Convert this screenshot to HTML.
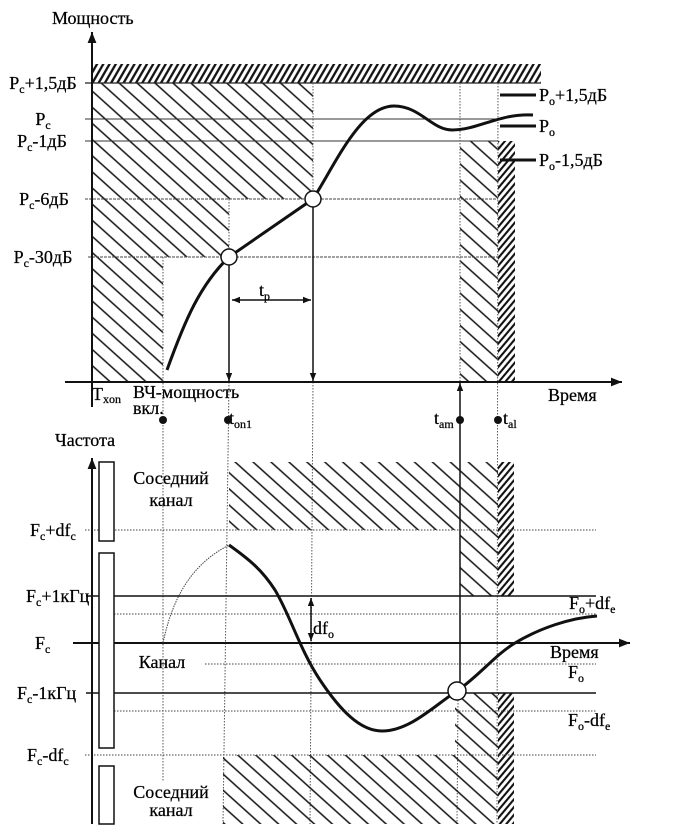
<!DOCTYPE html>
<html><head><meta charset="utf-8"><style>
html,body{margin:0;padding:0;background:#fff;}
svg{display:block;}
text{font-family:"Liberation Serif","DejaVu Serif",serif;fill:#000;font-size:18px;stroke:#000;stroke-width:0.25;}
.sub{font-size:12px;}
</style></head><body>
<svg width="686" height="832" viewBox="0 0 686 832" xmlns="http://www.w3.org/2000/svg">
<defs>
<pattern id="sp" patternUnits="userSpaceOnUse" width="12" height="12" patternTransform="rotate(42)">
<line x1="0" y1="6" x2="12" y2="6" stroke="#111" stroke-width="1.5"/></pattern>
<pattern id="dn" patternUnits="userSpaceOnUse" width="6" height="5.4" patternTransform="rotate(-60)">
<line x1="0" y1="2.7" x2="6" y2="2.7" stroke="#111" stroke-width="2.3"/></pattern>
<pattern id="dr" patternUnits="userSpaceOnUse" width="6" height="5" patternTransform="rotate(-50)">
<line x1="0" y1="2.5" x2="6" y2="2.5" stroke="#111" stroke-width="2.1"/></pattern>
<marker id="ah" viewBox="0 0 10 10" refX="10" refY="5" markerWidth="8" markerHeight="8" orient="auto-start-reverse" markerUnits="userSpaceOnUse">
<path d="M0,1 L10,5 L0,9 z" fill="#111"/></marker>
<marker id="ahb" viewBox="0 0 10 10" refX="10" refY="5" markerWidth="11" markerHeight="11" orient="auto-start-reverse" markerUnits="userSpaceOnUse">
<path d="M0,1 L10,5 L0,9 z" fill="#111"/></marker>
</defs>

<!-- ===== TOP CHART ===== -->
<rect x="92" y="64" width="449" height="19" fill="url(#dn)"/>
<polygon points="92,83 313,83 313,199 229,199 229,257 163,257 163,382 92,382" fill="url(#sp)"/>
<rect x="460" y="141" width="38" height="241" fill="url(#sp)"/>
<rect x="498" y="141" width="17" height="241" fill="url(#dr)"/>

<line x1="85" y1="83" x2="541" y2="83" stroke="#222" stroke-width="1.2"/>
<line x1="85" y1="119" x2="498" y2="119" stroke="#333" stroke-width="1"/>
<line x1="85" y1="141" x2="498" y2="141" stroke="#333" stroke-width="1"/>
<line x1="85" y1="199" x2="498" y2="199" stroke="#444" stroke-width="1" stroke-dasharray="3 1"/>
<line x1="88" y1="257" x2="498" y2="257" stroke="#444" stroke-width="1" stroke-dasharray="3 1"/>

<g stroke="#555" stroke-width="1" stroke-dasharray="1.5 1.5" fill="none">
<line x1="163" y1="257" x2="163" y2="782"/>
<line x1="229" y1="199" x2="229" y2="257"/>
<line x1="229" y1="382" x2="223" y2="824"/>
<line x1="313" y1="83" x2="313" y2="199"/>
<line x1="313" y1="382" x2="310" y2="824"/>
<line x1="460" y1="83" x2="460" y2="382"/>
<line x1="458" y1="700" x2="457" y2="824"/>
<line x1="498" y1="83" x2="497" y2="824"/>
</g>

<line x1="92" y1="407" x2="92" y2="32" stroke="#111" stroke-width="2" marker-end="url(#ahb)"/>
<line x1="65" y1="382" x2="622" y2="382" stroke="#111" stroke-width="2" marker-end="url(#ahb)"/>

<path d="M167,370 C 185,320 200,285 229,257 L313,199 C 335,165 360,106 394,106 C 420,106 432,130 452,130 C 478,130 500,113 533,115" fill="none" stroke="#111" stroke-width="3"/>

<line x1="229" y1="265" x2="229" y2="381" stroke="#111" stroke-width="1.5" marker-end="url(#ah)"/>
<line x1="313" y1="207" x2="313" y2="381" stroke="#111" stroke-width="1.5" marker-end="url(#ah)"/>
<line x1="460" y1="682" x2="460" y2="383" stroke="#111" stroke-width="1.5" marker-end="url(#ah)"/>
<line x1="232" y1="300" x2="311" y2="300" stroke="#111" stroke-width="1.5" marker-start="url(#ah)" marker-end="url(#ah)"/>

<circle cx="229" cy="257" r="8" fill="#fff" stroke="#111" stroke-width="1.5"/>
<circle cx="313" cy="199" r="8" fill="#fff" stroke="#111" stroke-width="1.5"/>

<g stroke="#111" stroke-width="3">
<line x1="500" y1="95" x2="536" y2="95"/>
<line x1="500" y1="126" x2="536" y2="126"/>
<line x1="500" y1="160" x2="536" y2="160"/>
</g>
<text x="539" y="101">P<tspan class="sub" dy="4">o</tspan><tspan dy="-4">+1,5дБ</tspan></text>
<text x="539" y="132">P<tspan class="sub" dy="4">o</tspan></text>
<text x="539" y="166">P<tspan class="sub" dy="4">o</tspan><tspan dy="-4">-1,5дБ</tspan></text>

<text x="43" y="89" text-anchor="middle">P<tspan class="sub" dy="4">c</tspan><tspan dy="-4">+1,5дБ</tspan></text>
<text x="43" y="125" text-anchor="middle">P<tspan class="sub" dy="4">c</tspan></text>
<text x="42" y="147" text-anchor="middle">P<tspan class="sub" dy="4">c</tspan><tspan dy="-4">-1дБ</tspan></text>
<text x="44" y="205" text-anchor="middle">P<tspan class="sub" dy="4">c</tspan><tspan dy="-4">-6дБ</tspan></text>
<text x="43" y="263" text-anchor="middle">P<tspan class="sub" dy="4">c</tspan><tspan dy="-4">-30дБ</tspan></text>
<text x="52" y="24">Мощность</text>

<text x="259" y="296">t<tspan class="sub" dy="4">p</tspan></text>
<text x="548" y="401">Время</text>
<text x="92" y="400">Т<tspan class="sub" dy="3">xon</tspan></text>
<text x="133" y="398">ВЧ-мощность</text>
<text x="133" y="414">вкл.</text>
<text x="229" y="424">t<tspan class="sub" dy="4">on1</tspan></text>
<text x="434" y="424">t<tspan class="sub" dy="4">am</tspan></text>
<text x="503" y="424">t<tspan class="sub" dy="4">al</tspan></text>

<g fill="#111">
<circle cx="163" cy="420" r="4"/>
<circle cx="228" cy="420" r="4"/>
<circle cx="460" cy="420" r="4"/>
<circle cx="498" cy="420" r="4"/>
</g>

<!-- ===== BOTTOM CHART ===== -->
<text x="55" y="446">Частота</text>

<rect x="229" y="462" width="269" height="68" fill="url(#sp)"/>
<rect x="460" y="530" width="38" height="66" fill="url(#sp)"/>
<rect x="498" y="462" width="16" height="134" fill="url(#dr)"/>
<rect x="223" y="755" width="275" height="69" fill="url(#sp)"/>
<rect x="455" y="693" width="43" height="62" fill="url(#sp)"/>
<rect x="498" y="693" width="16" height="131" fill="url(#dr)"/>

<g stroke="#444" stroke-width="1" stroke-dasharray="1.5 1.5">
<line x1="85" y1="530" x2="596" y2="530"/>
<line x1="114" y1="614" x2="596" y2="614"/>
<line x1="205" y1="664" x2="596" y2="664"/>
<line x1="114" y1="711" x2="596" y2="711"/>
<line x1="85" y1="755" x2="596" y2="755"/>
</g>
<line x1="86" y1="596" x2="596" y2="596" stroke="#111" stroke-width="1.6"/>
<line x1="86" y1="693" x2="596" y2="693" stroke="#111" stroke-width="1.6"/>
<line x1="73" y1="643" x2="630" y2="643" stroke="#111" stroke-width="2" marker-end="url(#ahb)"/>

<line x1="92" y1="824" x2="92" y2="458" stroke="#111" stroke-width="2" marker-end="url(#ahb)"/>

<g fill="#fff" stroke="#111" stroke-width="1.5">
<rect x="99" y="462" width="15" height="79"/>
<rect x="99" y="553" width="15" height="195"/>
<rect x="99" y="766" width="15" height="58"/>
</g>

<path d="M163,643 C 172,600 190,565 229,545" fill="none" stroke="#444" stroke-width="1" stroke-dasharray="1.5 1"/>
<path d="M229,545 C 250,560 262,570 275,590 C 290,615 300,650 320,680 C 340,710 360,731 382,731 C 410,731 435,705 457,691 C 480,675 495,655 515,643 C 540,628 570,618 597,616" fill="none" stroke="#111" stroke-width="3"/>
<circle cx="457" cy="691" r="9" fill="#fff" stroke="#111" stroke-width="1.5"/>

<line x1="311" y1="598" x2="311" y2="641" stroke="#111" stroke-width="1.5" marker-start="url(#ah)" marker-end="url(#ah)"/>
<text x="313" y="634">df<tspan class="sub" dy="4">o</tspan></text>

<text x="30" y="536">F<tspan class="sub" dy="4">c</tspan><tspan dy="-4">+df</tspan><tspan class="sub" dy="4">c</tspan></text>
<text x="26" y="602">F<tspan class="sub" dy="4">c</tspan><tspan dy="-4">+1кГц</tspan></text>
<text x="35" y="649">F<tspan class="sub" dy="4">c</tspan></text>
<text x="17" y="699">F<tspan class="sub" dy="4">c</tspan><tspan dy="-4">-1кГц</tspan></text>
<text x="27" y="761">F<tspan class="sub" dy="4">c</tspan><tspan dy="-4">-df</tspan><tspan class="sub" dy="4">c</tspan></text>

<text x="569" y="609">F<tspan class="sub" dy="4">o</tspan><tspan dy="-4">+df</tspan><tspan class="sub" dy="4">e</tspan></text>
<text x="550" y="658">Время</text>
<text x="568" y="678">F<tspan class="sub" dy="4">o</tspan></text>
<text x="568" y="726">F<tspan class="sub" dy="4">o</tspan><tspan dy="-4">-df</tspan><tspan class="sub" dy="4">e</tspan></text>

<text x="171" y="484" text-anchor="middle">Соседний</text>
<text x="171" y="506" text-anchor="middle">канал</text>
<text x="162" y="668" text-anchor="middle">Канал</text>
<text x="171" y="798" text-anchor="middle">Соседний</text>
<text x="171" y="816" text-anchor="middle">канал</text>
</svg>
</body></html>
